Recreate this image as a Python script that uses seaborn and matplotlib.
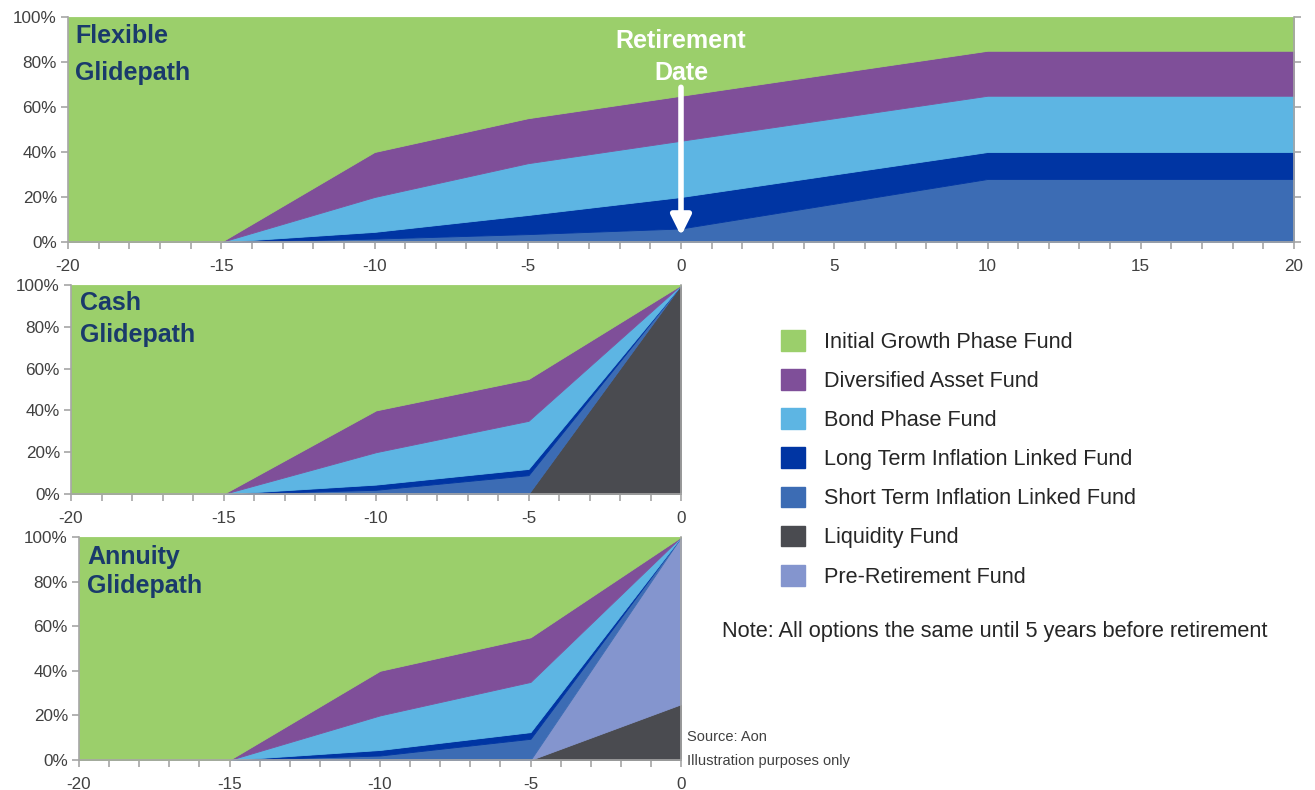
import matplotlib.pyplot as plt
import matplotlib.patches as mpatches
import seaborn as sns

sns.set_theme(style="ticks")
plt.rcParams['font.family'] = ['Liberation Sans', 'DejaVu Sans']
plt.rcParams['axes.unicode_minus'] = False

# Fund names and colours
fund_names = ["Initial Growth Phase Fund", "Diversified Asset Fund", "Bond Phase Fund",
              "Long Term Inflation Linked Fund", "Short Term Inflation Linked Fund",
              "Liquidity Fund", "Pre-Retirement Fund"]
fund_colors = ["#9BCF6B", "#7F4F99", "#5DB5E3", "#0035A3", "#3C6CB4", "#4A4B50", "#8495CE"]

# Flexible glidepath (% of pot, years relative to retirement)
flex_years = [-20, -15, -10, -5, 0, 10, 20]
flex_short_il = [0, 0, 1.5, 3.5, 6, 28, 28]
flex_long_il = [0, 0, 3, 8.5, 14, 12, 12]
flex_bond = [0, 0, 15.5, 23, 25, 25, 25]
flex_diversified = [0, 0, 20, 20, 20, 20, 20]
flex_growth = [100, 100, 60, 45, 35, 15, 15]

# Cash glidepath
cash_years = [-20, -15, -10, -5, 0]
cash_liquidity = [0, 0, 0, 0, 100]
cash_short_il = [0, 0, 2, 9, 0]
cash_long_il = [0, 0, 2.5, 3, 0]
cash_bond = [0, 0, 15.5, 23, 0]
cash_diversified = [0, 0, 20, 20, 0]
cash_growth = [100, 100, 60, 45, 0]

# Annuity glidepath
ann_years = [-20, -15, -10, -5, 0]
ann_liquidity = [0, 0, 0, 0, 25]
ann_pre_retirement = [0, 0, 0, 0, 75]
ann_short_il = [0, 0, 2, 9.5, 0]
ann_long_il = [0, 0, 2.5, 3, 0]
ann_bond = [0, 0, 15.5, 22.5, 0]
ann_diversified = [0, 0, 20, 20, 0]
ann_growth = [100, 100, 60, 45, 0]

c_growth, c_div, c_bond, c_long, c_short, c_liq, c_pre = fund_colors
axis_grey = "#A6A6A6"
title_blue = "#1A3A6B"


def style_axes(ax, xmin, xmax, right_ticks=False):
    ax.set_xlim(xmin, xmax)
    ax.set_ylim(0, 100)
    years = list(range(xmin, xmax + 1))
    ax.set_xticks(years)
    ax.set_xticklabels([str(v) if v % 5 == 0 else '' for v in years])
    ax.set_yticks(range(0, 101, 20))
    ax.set_yticklabels([str(v) + '%' for v in range(0, 101, 20)])
    ax.spines['top'].set_visible(False)
    for side in ['left', 'bottom', 'right']:
        ax.spines[side].set_color(axis_grey)
        ax.spines[side].set_linewidth(1.2)
    ax.tick_params(axis='both', color=axis_grey, length=5, width=1.2,
                   labelcolor='#404040', labelsize=12.3)
    ax.tick_params(axis='x', pad=7.5)
    ax.tick_params(axis='y', pad=3, right=right_ticks)


def stack(ax, x, series, colors):
    ax.stackplot(x, *series, colors=colors, edgecolor='face', linewidth=0.6)


fig = plt.figure(figsize=(13.15, 7.9), dpi=100)

# Flexible
ax_flex = fig.add_axes([68 / 1315, 1 - 242 / 790, (1294 - 68) / 1315, 225 / 790])
stack(ax_flex, flex_years,
      [flex_short_il, flex_long_il, flex_bond, flex_diversified, flex_growth],
      [c_short, c_long, c_bond, c_div, c_growth])
style_axes(ax_flex, -20, 20, right_ticks=True)
ax_flex.text(-19.77, 91.6, "Flexible", color=title_blue, fontsize=18, fontweight='bold', va='center')
ax_flex.text(-19.77, 75.0, "Glidepath", color=title_blue, fontsize=18, fontweight='bold', va='center')
ax_flex.text(0, 89.3, "Retirement", color='white', fontsize=18, fontweight='bold', ha='center', va='center')
ax_flex.text(0, 75.3, "Date", color='white', fontsize=18, fontweight='bold', ha='center', va='center')
ax_flex.annotate('', xy=(0, 1.5), xytext=(0, 70),
                 arrowprops=dict(arrowstyle='-|>', color='white', lw=4, mutation_scale=30))

# Cash
ax_cash = fig.add_axes([71 / 1315, 1 - 494 / 790, (681 - 71) / 1315, 209 / 790])
stack(ax_cash, cash_years,
      [cash_liquidity, cash_short_il, cash_long_il, cash_bond, cash_diversified, cash_growth],
      [c_liq, c_short, c_long, c_bond, c_div, c_growth])
style_axes(ax_cash, -20, 0)
ax_cash.text(-19.7, 91.6, "Cash", color=title_blue, fontsize=18, fontweight='bold', va='center')
ax_cash.text(-19.7, 76.3, "Glidepath", color=title_blue, fontsize=18, fontweight='bold', va='center')

# Annuity
ax_ann = fig.add_axes([79 / 1315, 1 - 760 / 790, (681 - 79) / 1315, 223 / 790])
stack(ax_ann, ann_years,
      [ann_liquidity, ann_pre_retirement, ann_short_il, ann_long_il, ann_bond, ann_diversified, ann_growth],
      [c_liq, c_pre, c_short, c_long, c_bond, c_div, c_growth])
style_axes(ax_ann, -20, 0)
ax_ann.text(-19.73, 91.0, "Annuity", color=title_blue, fontsize=18, fontweight='bold', va='center')
ax_ann.text(-19.73, 78.0, "Glidepath", color=title_blue, fontsize=18, fontweight='bold', va='center')

# Legend and notes
handles = [mpatches.Patch(facecolor=c, edgecolor=c) for c in fund_colors]
fig.legend(handles, fund_names, loc='upper left', bbox_to_anchor=(781 / 1315, 1 - 330 / 790),
           frameon=False, fontsize=15.6, handlelength=1.1, handleheight=1.1,
           handletextpad=0.9, labelspacing=0.755, borderpad=0, borderaxespad=0,
           labelcolor='#262626')
fig.text(722 / 1315, 1 - 632 / 790, "Note: All options the same until 5 years before retirement",
         fontsize=15.7, color='#262626', va='center')
fig.text(687 / 1315, 1 - 737 / 790, "Source: Aon", fontsize=10.5, color='#404040', va='center')
fig.text(687 / 1315, 1 - 761 / 790, "Illustration purposes only", fontsize=10.5, color='#404040', va='center')

fig.savefig("out.png", dpi=100)
